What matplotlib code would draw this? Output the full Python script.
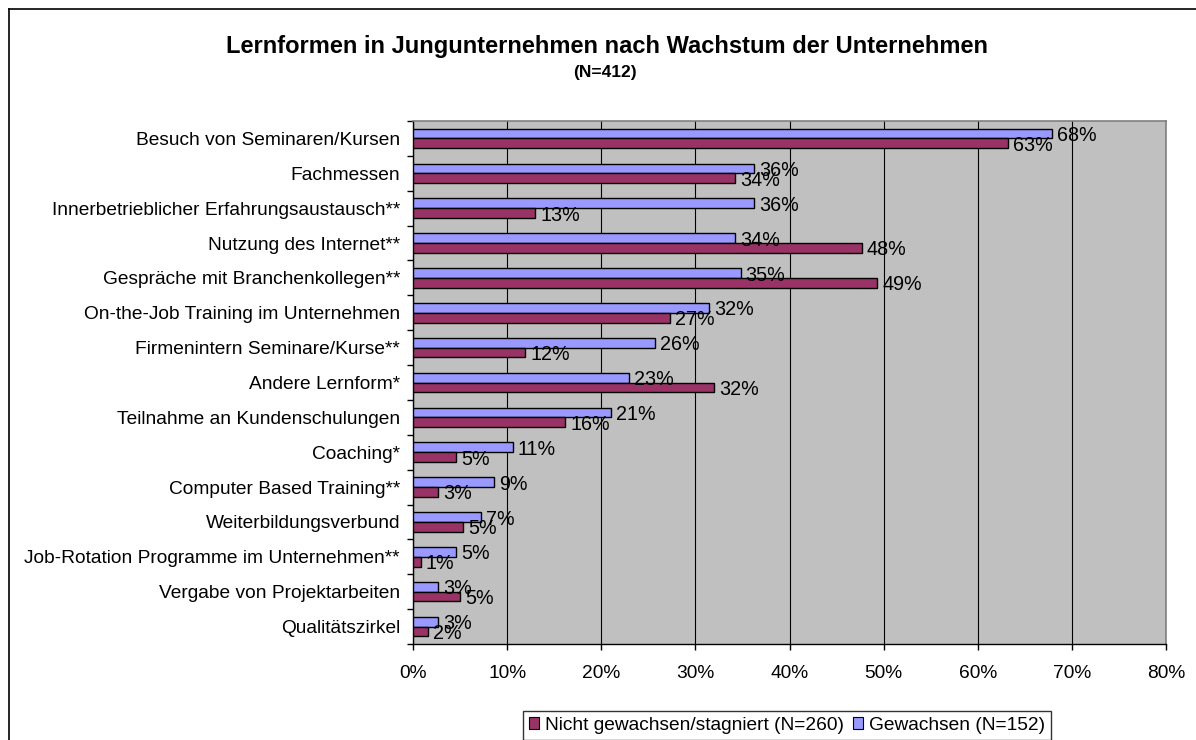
import matplotlib
matplotlib.use("Agg")
import matplotlib.pyplot as plt
from matplotlib.patches import Patch
from matplotlib.lines import Line2D
import numpy as np

plt.rcParams['font.family'] = ['Liberation Sans', 'DejaVu Sans']

categories = [
    "Besuch von Seminaren/Kursen",
    "Fachmessen",
    "Innerbetrieblicher Erfahrungsaustausch**",
    "Nutzung des Internet**",
    "Gespräche mit Branchenkollegen**",
    "On-the-Job Training im Unternehmen",
    "Firmenintern Seminare/Kurse**",
    "Andere Lernform*",
    "Teilnahme an Kundenschulungen",
    "Coaching*",
    "Computer Based Training**",
    "Weiterbildungsverbund",
    "Job-Rotation Programme im Unternehmen**",
    "Vergabe von Projektarbeiten",
    "Qualitätszirkel",
]
gewachsen = [67.9, 36.2, 36.2, 34.2, 34.8, 31.5, 25.7, 23.0, 21.0, 10.6, 8.6, 7.2, 4.6, 2.7, 2.7]
nicht_gewachsen = [63.2, 34.2, 13.0, 47.7, 49.3, 27.3, 11.9, 32.0, 16.2, 4.6, 2.7, 5.3, 0.8, 5.0, 1.6]
series_names = ["Nicht gewachsen/stagniert (N=260)", "Gewachsen (N=152)"]
xticks = [0, 10, 20, 30, 40, 50, 60, 70, 80]
title = "Lernformen in Jungunternehmen nach Wachstum der Unternehmen"
subtitle = "(N=412)"

W, H = 1196, 740
fig = plt.figure(figsize=(W / 100, H / 100), dpi=100)
fig.patch.set_facecolor("white")

# outer frame (left and top edges visible)
fig.add_artist(Line2D([9 / W, 9 / W], [0, 1 - 9 / H], color="black", lw=1.2, transform=fig.transFigure))
fig.add_artist(Line2D([9 / W, 1], [1 - 9 / H, 1 - 9 / H], color="black", lw=1.2, transform=fig.transFigure))

left, right, top, bottom = 413, 1166, 121, 644
ax = fig.add_axes([left / W, 1 - bottom / H, (right - left) / W, (bottom - top) / H])
ax.set_facecolor("#C0C0C0")

blue = "#9999FF"
red = "#993366"
h = 0.28
y = np.arange(len(categories))

ax.barh(y - h / 2, gewachsen, height=h, color=blue, edgecolor="black", linewidth=1.0, zorder=3)
ax.barh(y + h / 2, nicht_gewachsen, height=h, color=red, edgecolor="black", linewidth=1.0, zorder=3)

fs = 13.8
fs_lab = 14.2
for yi, v in zip(y - h / 2, gewachsen):
    ax.annotate(f"{round(v):.0f}%", (v, yi), xytext=(5, -2), textcoords="offset pixels",
                ha="left", va="center", fontsize=fs_lab, zorder=5)
for yi, v in zip(y + h / 2, nicht_gewachsen):
    ax.annotate(f"{round(v):.0f}%", (v, yi), xytext=(5, -2), textcoords="offset pixels",
                ha="left", va="center", fontsize=fs_lab, zorder=5)

ax.set_xlim(0, 80)
ax.set_ylim(len(categories) - 0.5, -0.5)
ax.set_xticks(xticks)
ax.set_xticklabels([f"{t}%" for t in xticks], fontsize=fs)
ax.set_yticks(y)
ax.set_yticklabels(categories, fontsize=fs)
ax.set_yticks(np.arange(len(categories) + 1) - 0.5, minor=True)
ax.tick_params(axis="y", which="major", length=0, pad=9.4)
ax.tick_params(axis="y", which="minor", length=6 * 0.72, width=1, direction="out")
ax.tick_params(axis="x", which="major", length=6 * 0.72, width=1, direction="out", pad=10.5)

ax.grid(axis="x", color="black", linewidth=0.8, zorder=1)
ax.set_axisbelow(True)
for s in ["top", "right"]:
    ax.spines[s].set_color("#808080")
    ax.spines[s].set_linewidth(1.2)
for s in ["left", "bottom"]:
    ax.spines[s].set_color("black")
    ax.spines[s].set_linewidth(1.0)

fig.text(607 / W, 1 - 47 / H, title, ha="center", va="center", fontsize=17, fontweight="bold")
fig.text(605 / W, 1 - 72 / H, subtitle, ha="center", va="center", fontsize=12.5, fontweight="bold")

handles = [Patch(facecolor=red, edgecolor="black", linewidth=0.8),
           Patch(facecolor=blue, edgecolor="black", linewidth=0.8)]
leg = fig.legend(handles, series_names, loc="upper left", bbox_to_anchor=(523 / W, 1 - 711 / H),
                 ncol=2, fontsize=fs, frameon=True, fancybox=False, handlelength=0.55, handleheight=0.55,
                 handletextpad=0.3, columnspacing=0.45, borderpad=0.3, borderaxespad=0)
leg.get_frame().set_edgecolor("black")
leg.get_frame().set_linewidth(1.0)

fig.savefig("out.png", dpi=100)
